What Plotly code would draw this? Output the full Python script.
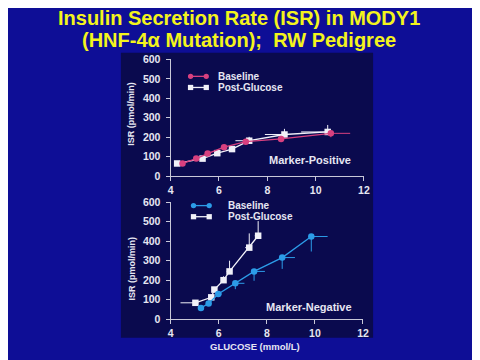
import plotly.graph_objects as go

W, H = 480, 360
OFF = 8  # page body margin the figure is drawn at

# ---------------- data ----------------
x_ticks = [4, 6, 8, 10, 12]
y_ticks = [0, 100, 200, 300, 400, 500, 600]

# Marker-Positive
pos_base_x = [4.49, 5.06, 5.53, 6.21, 7.11, 8.57, 10.63]
pos_base_y = [65, 90, 116, 149, 177, 191, 220]
pos_base_xerr_plus = [0, 0, 0, 0, 0, 0, 0.8]
pos_base_yerr_minus = [0, 0, 0, 0, 0, 10, 20]

pos_post_x = [4.27, 5.32, 5.93, 6.54, 7.25, 8.71, 10.5]
pos_post_y = [65, 90, 118, 139, 182, 214, 227]
pos_post_xerr_minus = [0, 0, 0, 0, 0.57, 0.81, 1.1]
pos_post_yerr_plus = [0, 0, 0, 0, 20, 29, 36]

# Marker-Negative
neg_base_x = [5.26, 5.58, 5.98, 6.69, 7.47, 8.64, 9.85]
neg_base_y = [57, 81, 129, 184, 245, 316, 424]
neg_base_xerr_plus = [0, 0, 0.15, 0.38, 0.45, 0.53, 0.68]
neg_base_yerr_minus = [0, 0, 0, 30, 48, 58, 77]

neg_post_x = [5.03, 5.69, 5.82, 6.20, 6.45, 7.27, 7.64]
neg_post_y = [84, 112, 152, 200, 245, 367, 428]
neg_post_xerr_minus = [0.62, 0, 0, 0.1, 0.12, 0.17, 0.14]
neg_post_yerr_plus = [10, 0, 0, 20, 55, 73, 75]

# ---------------- style ----------------
OUTER = "rgb(14,14,150)"
PANEL = "rgb(10,10,78)"
PINK = "#d8407f"
BLUE = "#2c9ce8"
WHITE = "#f0f0f8"
AXC = "#c8c8d8"
TXT = "#e6e6f2"
FONT = "Liberation Sans, Arial, sans-serif"


def px(x):
    return (x - OFF) / W


def py(y):
    return 1 - (y - OFF) / H


fig = go.Figure()


def add_series(x, y, color, symbol, xa, ya, xplus, xminus, yplus, yminus):
    fig.add_trace(go.Scatter(
        x=x, y=y, mode="lines+markers", xaxis=xa, yaxis=ya,
        line=dict(color=color, width=1.3),
        marker=dict(color=color, symbol=symbol, size=6.5,
                    line=dict(width=0)),
        error_x=dict(type="data", symmetric=False, array=xplus,
                     arrayminus=xminus, width=0, thickness=1, color=color),
        error_y=dict(type="data", symmetric=False, array=yplus,
                     arrayminus=yminus, width=0, thickness=1, color=color),
        cliponaxis=False, showlegend=False, hoverinfo="x+y",
    ))


zeros = [0] * 7
add_series(pos_post_x, pos_post_y, WHITE, "square", "x", "y",
           zeros, pos_post_xerr_minus, pos_post_yerr_plus, zeros)
add_series(pos_base_x, pos_base_y, PINK, "circle", "x", "y",
           pos_base_xerr_plus, zeros, zeros, pos_base_yerr_minus)
add_series(neg_post_x, neg_post_y, WHITE, "square", "x2", "y2",
           zeros, neg_post_xerr_minus, neg_post_yerr_plus, zeros)
add_series(neg_base_x, neg_base_y, BLUE, "circle", "x2", "y2",
           neg_base_xerr_plus, zeros, zeros, neg_base_yerr_minus)

axis_common = dict(
    showline=True, linecolor=AXC, linewidth=1.2, showgrid=False,
    zeroline=False, ticks="outside", ticklen=4, tickwidth=1.2,
    tickcolor=AXC, tickfont=dict(family=FONT, size=10.5, color=TXT,
                                 weight="bold"),
)

fig.update_layout(
    width=W, height=H, margin=dict(l=0, r=0, t=0, b=0),
    paper_bgcolor=OUTER, plot_bgcolor="rgba(0,0,0,0)",
    showlegend=False,
    xaxis=dict(domain=[px(170.7), px(367.7)], range=[4, 12],
               tickvals=x_ticks, anchor="y", **axis_common),
    yaxis=dict(domain=[py(175.7), py(55)], range=[0, 600],
               tickvals=y_ticks, anchor="x", ticklabelstandoff=3,
               **axis_common),
    xaxis2=dict(domain=[px(170.7), px(366.7)], range=[4, 12],
                tickvals=x_ticks, anchor="y2", **axis_common),
    yaxis2=dict(domain=[py(323.7), py(202.7)], range=[0, 600],
                tickvals=y_ticks, anchor="x2", ticklabelstandoff=3,
                **axis_common),
)

shapes = [
    dict(type="rect", xref="paper", yref="paper", layer="below",
         x0=px(120), x1=px(377), y0=py(343), y1=py(48),
         fillcolor=PANEL, line=dict(width=0)),
]

annotations = []


def text(x, y, s, size, color=TXT, xanchor="left", angle=0, bold=True):
    annotations.append(dict(
        x=px(x), y=py(y), xref="paper", yref="paper", text=s,
        showarrow=False, xanchor=xanchor, yanchor="middle",
        textangle=angle, borderpad=0,
        font=dict(family=FONT, size=size, color=color,
                  weight="bold" if bold else "normal"),
    ))


def legend_key(x0, x1, y, color, kind):
    shapes.append(dict(type="line", xref="paper", yref="paper",
                       x0=px(x0), x1=px(x1), y0=py(y), y1=py(y),
                       line=dict(color=color, width=1.3)))
    r = 2.7
    for cx in (x0, x1):
        shapes.append(dict(type="circle" if kind == "circle" else "rect",
                           xref="paper", yref="paper",
                           x0=px(cx - r), x1=px(cx + r),
                           y0=py(y + r), y1=py(y - r),
                           fillcolor=color, line=dict(width=0)))


text(240, 12, "Insulin Secretion Rate (ISR) in MODY1", 20,
     color="#f4f41c", xanchor="center")
text(240, 35, "(HNF-4\u03b1 Mutation);  RW Pedigree", 20,
     color="#f4f41c", xanchor="center")

legend_key(191, 207, 72.5, PINK, "circle")
legend_key(191, 207, 84, WHITE, "square")
text(218, 72.5, "Baseline", 10)
text(218, 84, "Post-Glucose", 10)

legend_key(194, 210, 206.2, BLUE, "circle")
legend_key(194, 210, 217.7, WHITE, "square")
text(228, 206.2, "Baseline", 10)
text(228, 217.7, "Post-Glucose", 10)

text(270, 158.7, "Marker-Positive", 11)
text(267, 311, "Marker-Negative", 11)

text(129.5, 111, "ISR (pmol/min)", 9, angle=-90, xanchor="center")
text(131.5, 271, "ISR (pmol/min)", 9, angle=-90, xanchor="center")
text(257, 352, "GLUCOSE (mmol/L)", 9.5, xanchor="center")

fig.update_layout(shapes=shapes, annotations=annotations)

fig.write_html("out.html")
